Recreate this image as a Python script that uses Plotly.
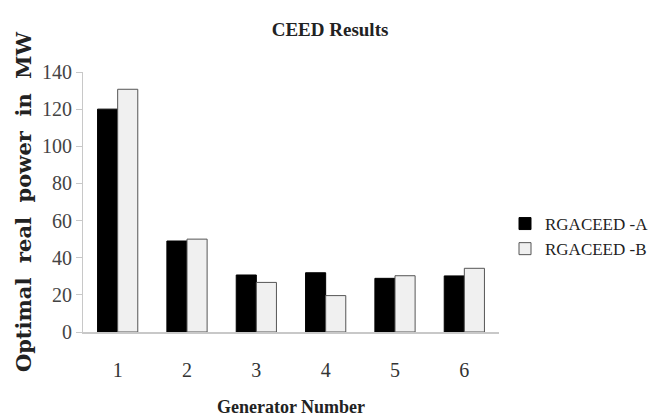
import plotly.graph_objects as go

generators = ["1", "2", "3", "4", "5", "6"]
rgaceed_a = [120, 49, 30.7, 31.9, 28.9, 30.2]
rgaceed_b = [130.7, 50, 26.7, 19.6, 30.3, 34.3]
y_ticks = [0, 20, 40, 60, 80, 100, 120, 140]

serif = "Liberation Serif"

fig = go.Figure()
fig.add_trace(go.Bar(
    x=generators, y=rgaceed_a, name="RGACEED -A",
    marker=dict(color="#000000", line=dict(color="#000000", width=1)),
    legendgroup="a",
))
fig.add_trace(go.Bar(
    x=generators, y=rgaceed_b, name="RGACEED -B",
    marker=dict(color="#f0f0f0", line=dict(color="#555555", width=1)),
    legendgroup="b",
))

fig.update_layout(
    width=651, height=418,
    margin=dict(l=83, r=152, t=72, b=86),
    paper_bgcolor="white", plot_bgcolor="white",
    barmode="group", bargap=0.42, bargroupgap=0,
    font=dict(family=serif, color="#333333"),
    title=dict(
        text="<b>CEED Results</b>",
        font=dict(family=serif, size=19, color="#222222"),
        xref="container", x=0.507, xanchor="center",
        yref="container", y=1 - 29 / 418, yanchor="middle",
    ),
    xaxis=dict(
        automargin=False,
        showline=True, linecolor="#c8c8c8", linewidth=1.5,
        ticks="", showgrid=False,
        tickfont=dict(family=serif, size=20, color="#333333"),
        ticklabelstandoff=19,
        title=dict(text="<b>Generator Number</b>",
                   font=dict(family=serif, size=18, color="#222222"),
                   standoff=21),
    ),
    yaxis=dict(
        automargin=False,
        range=[0, 140], tickvals=y_ticks,
        showline=True, linecolor="#c8c8c8", linewidth=1,
        ticks="outside", ticklen=6, tickcolor="#c8c8c8",
        showgrid=False, zeroline=False,
        tickfont=dict(family=serif, size=20, color="#444444"),
        title=dict(text="<b>Optimal  real  power  in  MW</b>",
                   font=dict(family="DejaVu Serif", size=21, color="#222222"),
                   standoff=4),
    ),
    legend=dict(
        x=505 / 651, xref="container", xanchor="left",
        y=1 - 206 / 418, yref="container", yanchor="top",
        font=dict(family=serif, size=17, color="#222222"),
        tracegroupgap=16, traceorder="normal",
        bgcolor="rgba(0,0,0,0)",
    ),
    showlegend=True,
)

fig.write_html(
    "out.html",
    config={"displayModeBar": False},
    post_script="document.body.style.margin='0';document.body.style.overflow='hidden';",
)
